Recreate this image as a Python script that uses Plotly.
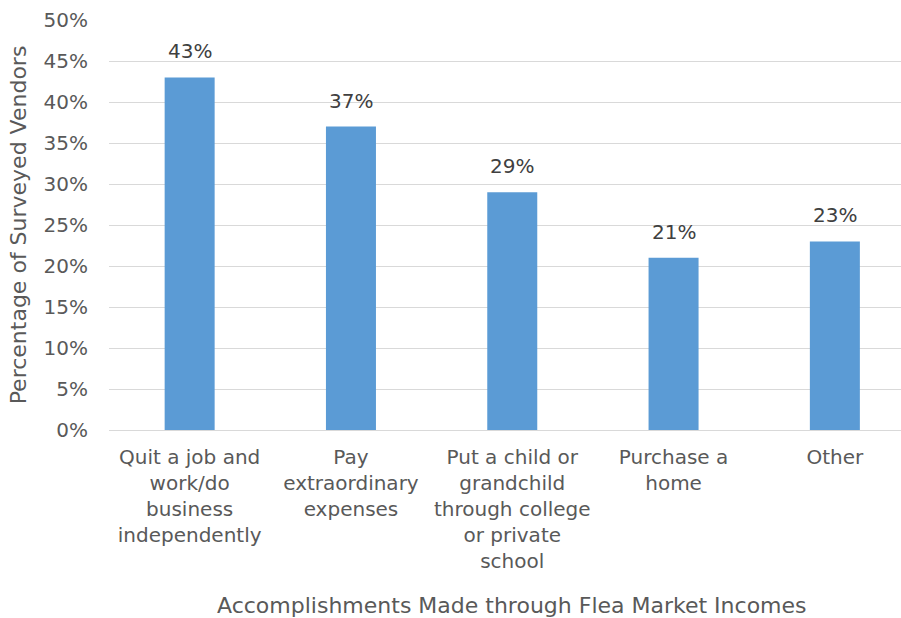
import plotly.graph_objects as go

# Survey results: share of vendors reporting each accomplishment
categories = [
    "Quit a job and<br>work/do<br>business<br>independently",
    "Pay<br>extraordinary<br>expenses",
    "Put a child or<br>grandchild<br>through college<br>or private<br>school",
    "Purchase a<br>home",
    "Other",
]
percentages = [43, 37, 29, 21, 23]
y_ticks = [0, 5, 10, 15, 20, 25, 30, 35, 40, 45, 50]
y_tick_labels = [f"{v}%" for v in y_ticks]
x_title = "Accomplishments Made through Flea Market Incomes"
y_title = "Percentage of Surveyed Vendors"

FONT = "DejaVu Sans"
TEXT_GREY = "#595959"
x_pos = list(range(len(categories)))

fig = go.Figure(
    go.Bar(
        x=x_pos,
        y=percentages,
        marker=dict(color="#5B9BD5", line=dict(width=0)),
        width=0.31,
        hoverinfo="x+y",
    )
)

# value labels sitting above each bar
for xi, v in zip(x_pos, percentages):
    fig.add_annotation(
        x=xi,
        y=v,
        xref="x",
        yref="y",
        text=f"{v}%",
        showarrow=False,
        yanchor="bottom",
        yshift=12,
        font=dict(family=FONT, size=20, color="#404040"),
    )

# category-axis title, centred under the middle category
fig.add_annotation(
    x=(len(categories) - 1) / 2,
    xref="x",
    y=-0.427,
    yref="paper",
    text=x_title,
    showarrow=False,
    xanchor="center",
    yanchor="middle",
    font=dict(family=FONT, size=22, color=TEXT_GREY),
)

fig.update_layout(
    width=901,
    height=618,
    margin=dict(l=109, r=0, t=20, b=188),
    paper_bgcolor="white",
    plot_bgcolor="white",
    showlegend=False,
    font=dict(family=FONT, color=TEXT_GREY),
    xaxis=dict(
        range=[-0.5, 4.41],
        tickmode="array",
        tickvals=x_pos,
        ticktext=categories,
        tickfont=dict(family=FONT, size=20, color=TEXT_GREY),
        ticks="",
        showgrid=False,
        showline=True,
        linecolor="#d9d9d9",
        linewidth=1,
        zeroline=False,
        ticklabelstandoff=9,
    ),
    yaxis=dict(
        range=[0, 50],
        tickmode="array",
        tickvals=y_ticks,
        ticktext=y_tick_labels,
        tickfont=dict(family=FONT, size=20, color=TEXT_GREY),
        ticks="",
        showgrid=True,
        gridcolor="#d9d9d9",
        gridwidth=1,
        zeroline=False,
        ticklabelstandoff=20,
        title=dict(
            text=y_title,
            font=dict(family=FONT, size=22, color=TEXT_GREY),
            standoff=10,
        ),
    ),
)

fig.write_html("out.html")
